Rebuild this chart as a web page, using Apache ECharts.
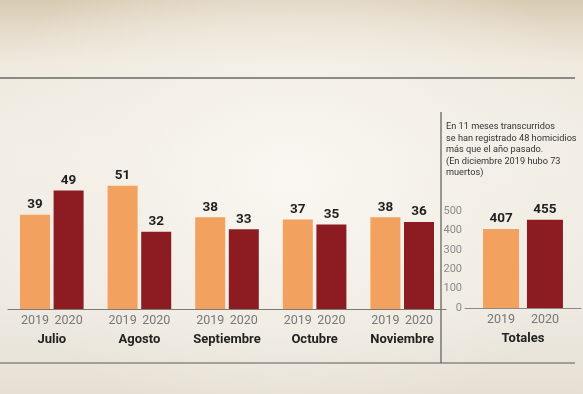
<!DOCTYPE html>
<html>
<head>
<meta charset="utf-8">
<script src="https://cdn.jsdelivr.net/npm/echarts@6/dist/echarts.min.js"></script>
<style>
html,body{margin:0;padding:0;width:583px;height:394px;overflow:hidden;}
body{
  background:
    radial-gradient(ellipse at 50% 45%, rgba(250,248,243,0.9) 0%, rgba(245,241,233,0.6) 45%, rgba(228,220,205,0) 80%),
    linear-gradient(to bottom, #d8cbb2 0%, #e4dac8 7%, #efe9de 16%, #f2eee6 40%, #efebe3 75%, #e6e0d4 100%);
}
#chart{width:583px;height:394px;}
</style>
</head>
<body>
<div id="chart"></div>
<script>
// ---- data ----
const months = ['Julio', 'Agosto', 'Septiembre', 'Octubre', 'Noviembre'];
const years = ['2019', '2020'];
const values2019 = [39, 51, 38, 37, 38];
const values2020 = [49, 32, 33, 35, 36];
const totalCategory = ['Totales'];
const total2019 = [407];
const total2020 = [455];
const totalTicks = { min: 0, max: 500, interval: 100 };
const note = 'En 11 meses transcurridos\nse han registrado 48 homicidios\nmás que el año pasado.\n(En diciembre 2019 hubo 73\nmuertos)';

const ORANGE = '#f2a25e';
const RED = '#8c1c22';
const FONT = "'Liberation Sans Narrow', Roboto, 'DejaVu Sans', sans-serif";

function catLabel(w) {
  return {
    margin: 4,
    interval: 0,
    formatter: v => `{y|${years[0]}}{y|${years[1]}}\n{m|${v}}`,
    rich: {
      y: { width: w, align: 'center', fontSize: 12.5, color: '#777', lineHeight: 16, fontFamily: FONT },
      m: { fontSize: 13, fontWeight: 'bold', color: '#222', lineHeight: 22, fontFamily: FONT }
    }
  };
}
const valLabel = {
  show: true, position: 'top', distance: 3,
  fontSize: 13.5, fontWeight: 'bold', color: '#1f1f1f', fontFamily: FONT
};

const chart = echarts.init(document.getElementById('chart'), null, { renderer: 'canvas' });
chart.setOption({
  backgroundColor: 'transparent',
  animation: false,
  title: {
    text: note, left: 446, top: 121, padding: 0,
    textStyle: { fontSize: 9.2, fontWeight: 'normal', color: '#333', lineHeight: 11.5, fontFamily: FONT }
  },
  graphic: [
    { type: 'line', shape: { x1: 0, y1: 78, x2: 575, y2: 78 }, style: { stroke: '#8a8a86', lineWidth: 2 } },
    { type: 'line', shape: { x1: 441, y1: 112, x2: 441, y2: 363 }, style: { stroke: '#5a5a56', lineWidth: 1.2 } },
    { type: 'line', shape: { x1: 0, y1: 363, x2: 575, y2: 363 }, style: { stroke: '#5a5a56', lineWidth: 1.2 } }
  ],
  grid: [
    { left: 8, right: 137, top: 164, bottom: 85 },
    { left: 465, right: 2, top: 211, bottom: 86 }
  ],
  xAxis: [
    { type: 'category', gridIndex: 0, data: months,
      axisLine: { lineStyle: { color: '#7a7a76', width: 1 } }, axisTick: { show: false },
      axisLabel: catLabel(33.6) },
    { type: 'category', gridIndex: 1, data: totalCategory,
      axisLine: { lineStyle: { color: '#8a8a86', width: 1 } }, axisTick: { show: false },
      axisLabel: catLabel(44) }
  ],
  yAxis: [
    { type: 'value', gridIndex: 0, min: 0, max: 60, show: false },
    { type: 'value', gridIndex: 1, min: totalTicks.min, max: totalTicks.max, interval: totalTicks.interval,
      axisLine: { show: false }, axisTick: { show: false }, splitLine: { show: false },
      axisLabel: { color: '#8a8a8a', fontSize: 11, margin: 3, fontFamily: FONT } }
  ],
  series: [
    { type: 'bar', name: years[0], xAxisIndex: 0, yAxisIndex: 0, data: values2019,
      barWidth: 30, barGap: '12%', itemStyle: { color: ORANGE }, label: valLabel },
    { type: 'bar', name: years[1], xAxisIndex: 0, yAxisIndex: 0, data: values2020,
      barWidth: 30, barGap: '12%', itemStyle: { color: RED }, label: valLabel },
    { type: 'bar', name: years[0], xAxisIndex: 1, yAxisIndex: 1, data: total2019,
      barWidth: 36, barGap: '22%', itemStyle: { color: ORANGE }, label: valLabel },
    { type: 'bar', name: years[1], xAxisIndex: 1, yAxisIndex: 1, data: total2020,
      barWidth: 36, barGap: '22%', itemStyle: { color: RED }, label: valLabel }
  ]
});
</script>
</body>
</html>
